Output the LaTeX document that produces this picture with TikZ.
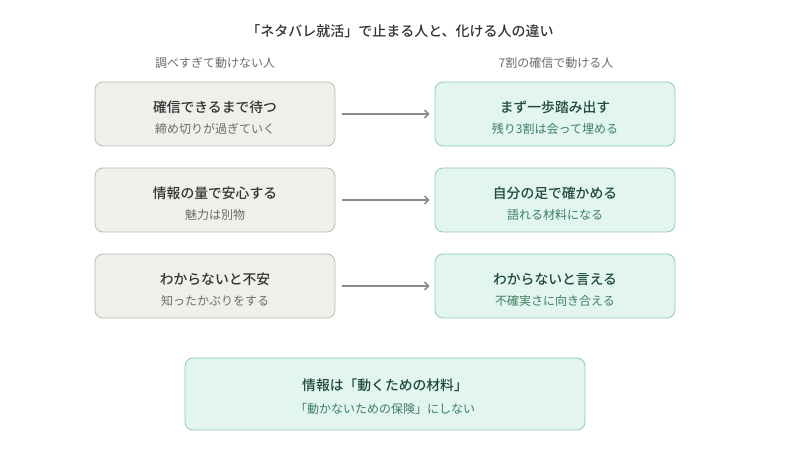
\documentclass[tikz,border=0pt]{standalone}
\usepackage{fontspec}
\setmainfont{Noto Sans CJK JP}[BoldFont={Noto Sans CJK JP Medium}]
\usetikzlibrary{arrows.meta}
\definecolor{stuckfill}{HTML}{F0EFEB}
\definecolor{stuckline}{HTML}{BDBBB5}
\definecolor{stucktitle}{HTML}{333333}
\definecolor{stucksub}{HTML}{6B6B6B}
\definecolor{movefill}{HTML}{E2F5EE}
\definecolor{moveline}{HTML}{93C9B3}
\definecolor{movetitle}{HTML}{1F4A38}
\definecolor{movesub}{HTML}{3D7F63}
\definecolor{arrowgray}{HTML}{8A8A8A}

\begin{document}
\begin{tikzpicture}[x=1pt,y=-1pt,
    stuckbox/.style={draw=stuckline, fill=stuckfill, line width=0.8pt, rounded corners=8pt, minimum width=240pt, minimum height=64pt},
    movebox/.style={draw=moveline, fill=movefill, line width=0.8pt, rounded corners=8pt, minimum width=240pt, minimum height=64pt},
    headtext/.style={text=stucksub, font=\fontsize{12}{14}\selectfont},
    stuckhead/.style={text=stucktitle, font=\fontsize{13.8}{16}\selectfont\bfseries},
    stucknote/.style={text=stucksub, font=\fontsize{12}{14}\selectfont},
    movehead/.style={text=movetitle, font=\fontsize{13.8}{16}\selectfont\bfseries},
    movenote/.style={text=movesub, font=\fontsize{12}{14}\selectfont},
    flow/.style={draw=arrowgray, line width=1.5pt, -{Straight Barb[length=4pt,width=8pt]}, shorten <=7pt, shorten >=5pt}]
  \useasboundingbox (0,0) rectangle (796,457);

  % title and column heads
  \node[text=stucktitle, font=\fontsize{14}{17}\selectfont\bfseries] (title) at (400,31) {「ネタバレ就活」で止まる人と、化ける人の違い};
  \node[headtext] (lefthead) at (215,63) {調べすぎて動けない人};
  \node[headtext] (righthead) at (556,63) {7割の確信で動ける人};

  % boxes
  \node[stuckbox] (s1) at (215,114) {};
  \node[stuckbox] (s2) at (215,200) {};
  \node[stuckbox] (s3) at (215,286) {};
  \node[movebox] (g1) at (555,114) {};
  \node[movebox] (g2) at (555,200) {};
  \node[movebox] (g3) at (555,286) {};
  \node[movebox, minimum width=400pt, minimum height=72pt] (sum) at (385,394) {};

  % texts
  \node[stuckhead] at ([yshift=7pt]s1.center) {確信できるまで待つ};
  \node[stucknote] at ([yshift=-15pt]s1.center) {締め切りが過ぎていく};
  \node[stuckhead] at ([yshift=7pt]s2.center) {情報の量で安心する};
  \node[stucknote] at ([yshift=-15pt]s2.center) {魅力は別物};
  \node[stuckhead] at ([yshift=7pt]s3.center) {わからないと不安};
  \node[stucknote] at ([yshift=-15pt]s3.center) {知ったかぶりをする};
  \node[movehead] at ([yshift=7pt]g1.center) {まず一歩踏み出す};
  \node[movenote] at ([yshift=-15pt]g1.center) {残り3割は会って埋める};
  \node[movehead] at ([yshift=7pt]g2.center) {自分の足で確かめる};
  \node[movenote] at ([yshift=-15pt]g2.center) {語れる材料になる};
  \node[movehead] at ([yshift=7pt]g3.center) {わからないと言える};
  \node[movenote] at ([yshift=-15pt]g3.center) {不確実さに向き合える};
  \node[movehead] at ([yshift=9pt]sum.center) {情報は「動くための材料」};
  \node[movenote] at ([yshift=-15pt]sum.center) {「動かないための保険」にしない};

  % arrows
  \draw[flow] (s1) -- (g1);
  \draw[flow] (s2) -- (g2);
  \draw[flow] (s3) -- (g3);
\end{tikzpicture}
\end{document}
